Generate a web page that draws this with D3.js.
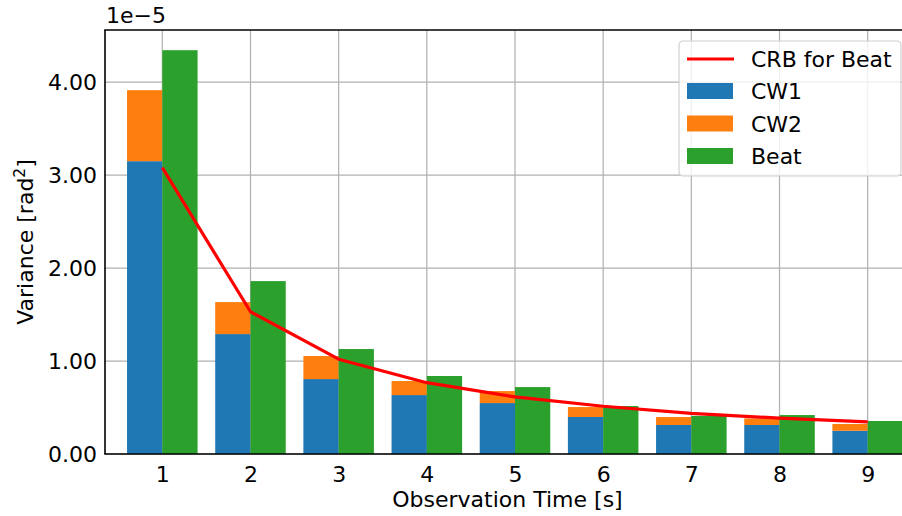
<!DOCTYPE html>
<html>
<head>
<meta charset="utf-8">
<script src="https://cdn.jsdelivr.net/npm/d3@7"></script>
<style>
  html, body { margin: 0; padding: 0; background: #fff; }
  svg { display: block; font-family: "DejaVu Sans", sans-serif; }
</style>
</head>
<body>
<svg id="chart" width="902" height="516"></svg>
<script>
// Observation times (s)
const times = [1, 2, 3, 4, 5, 6, 7, 8, 9];
// Phase variance, in units of 1e-5 rad^2
const cw1 = [3.15, 1.29, 0.806, 0.634, 0.548, 0.398, 0.312, 0.312, 0.25];
const cw2Total = [3.914, 1.634, 1.054, 0.785, 0.677, 0.505, 0.398, 0.383, 0.323];
const beat = [4.344, 1.86, 1.129, 0.839, 0.72, 0.516, 0.41, 0.419, 0.355];
const crb = [3.08, 1.53, 1.02, 0.767, 0.614, 0.514, 0.437, 0.386, 0.345];
const yTicks = [0, 1, 2, 3, 4];
const legendLabels = ["CRB for Beat", "CW1", "CW2", "Beat"];

const colors = { crb: "#ff0000", cw1: "#1f77b4", cw2: "#ff7f0e", beat: "#2ca02c" };
const barW = 0.4;
const fs = 22;

const svg = d3.select("#chart");
const mLeft = 105, mRight = 910, mTop = 30, mBottom = 454;

const x = d3.scaleLinear().domain([0.35, 9.48]).range([mLeft, mRight]);
const y = d3.scaleLinear().domain([0, d3.max(beat) * 1.05]).range([mBottom, mTop]);

// grid
const grid = svg.append("g").attr("stroke", "#b0b0b0").attr("stroke-width", 1.2);
grid.selectAll("line.v").data(times).join("line").attr("class", "v")
  .attr("x1", d => x(d)).attr("x2", d => x(d))
  .attr("y1", mTop).attr("y2", mBottom);
grid.selectAll("line.h").data(yTicks).join("line").attr("class", "h")
  .attr("x1", mLeft).attr("x2", mRight)
  .attr("y1", d => y(d)).attr("y2", d => y(d));

// bars: CW2 stacked on CW1 to the left of each time, Beat to the right
const bars = svg.append("g");
bars.selectAll("rect.cw1").data(times).join("rect").attr("class", "cw1")
  .attr("x", d => x(d - barW)).attr("width", d => x(d) - x(d - barW))
  .attr("y", (d, i) => y(cw1[i])).attr("height", (d, i) => y(0) - y(cw1[i]))
  .attr("fill", colors.cw1);
bars.selectAll("rect.cw2").data(times).join("rect").attr("class", "cw2")
  .attr("x", d => x(d - barW)).attr("width", d => x(d) - x(d - barW))
  .attr("y", (d, i) => y(cw2Total[i])).attr("height", (d, i) => y(cw1[i]) - y(cw2Total[i]))
  .attr("fill", colors.cw2);
bars.selectAll("rect.beat").data(times).join("rect").attr("class", "beat")
  .attr("x", d => x(d)).attr("width", d => x(d + barW) - x(d))
  .attr("y", (d, i) => y(beat[i])).attr("height", (d, i) => y(0) - y(beat[i]))
  .attr("fill", colors.beat);

// CRB line
const line = d3.line().x(d => x(d[0])).y(d => y(d[1]));
svg.append("path")
  .datum(times.map((t, i) => [t, crb[i]]))
  .attr("d", line).attr("fill", "none")
  .attr("stroke", colors.crb).attr("stroke-width", 3.2)
  .attr("stroke-linejoin", "round");

// spines
svg.append("line").attr("x1", mLeft).attr("x2", mLeft).attr("y1", mTop).attr("y2", mBottom)
  .attr("stroke", "#000").attr("stroke-width", 1.6);
svg.append("line").attr("x1", mLeft - 0.8).attr("x2", mRight).attr("y1", mBottom).attr("y2", mBottom)
  .attr("stroke", "#000").attr("stroke-width", 1.6);
svg.append("line").attr("x1", mLeft - 0.8).attr("x2", mRight).attr("y1", mTop).attr("y2", mTop)
  .attr("stroke", "#000").attr("stroke-width", 1.6);

// tick labels via d3 axes (no visible tick marks)
const xAxis = d3.axisBottom(x).tickValues(times).tickFormat(d3.format("d")).tickSize(0).tickPadding(12);
const gx = svg.append("g").attr("transform", `translate(0,${mBottom})`).call(xAxis);
gx.select(".domain").remove();
gx.selectAll("text").attr("font-size", fs).attr("font-family", "DejaVu Sans").attr("fill", "#000");

const yAxis = d3.axisLeft(y).tickValues(yTicks).tickFormat(d3.format(".2f")).tickSize(0).tickPadding(8);
const gy = svg.append("g").attr("transform", `translate(${mLeft},0)`).call(yAxis);
gy.select(".domain").remove();
gy.selectAll("text").attr("font-size", fs).attr("font-family", "DejaVu Sans").attr("fill", "#000");

// offset text
svg.append("text").attr("x", mLeft + 1).attr("y", 23).attr("font-size", fs).text("1e\u22125");

// axis titles
svg.append("text").attr("x", (mLeft + mRight) / 2).attr("y", 507)
  .attr("text-anchor", "middle").attr("font-size", fs).text("Observation Time [s]");
const yl = svg.append("text")
  .attr("transform", `translate(33,${(mTop + mBottom) / 2}) rotate(-90)`)
  .attr("text-anchor", "middle").attr("font-size", fs);
yl.append("tspan").text("Variance [rad");
yl.append("tspan").attr("dy", -8).attr("font-size", fs * 0.7).text("2");
yl.append("tspan").attr("dy", 8).text("]");

// legend
const lg = svg.append("g").attr("transform", "translate(679,41)");
lg.append("rect").attr("width", 222).attr("height", 135).attr("rx", 4)
  .attr("fill", "#fff").attr("fill-opacity", 0.8).attr("stroke", "#d0d0d0").attr("stroke-width", 1.2);
const rowY = [18, 50, 82.5, 115];
const swatch = [colors.crb, colors.cw1, colors.cw2, colors.beat];
legendLabels.forEach((lab, i) => {
  if (i === 0) {
    lg.append("line").attr("x1", 8).attr("x2", 55).attr("y1", rowY[i]).attr("y2", rowY[i])
      .attr("stroke", swatch[i]).attr("stroke-width", 3.2);
  } else {
    lg.append("rect").attr("x", 8).attr("y", rowY[i] - 8).attr("width", 46).attr("height", 16)
      .attr("fill", swatch[i]);
  }
  lg.append("text").attr("x", 72).attr("y", rowY[i] + 8).attr("font-size", fs).text(lab);
});
</script>
</body>
</html>
